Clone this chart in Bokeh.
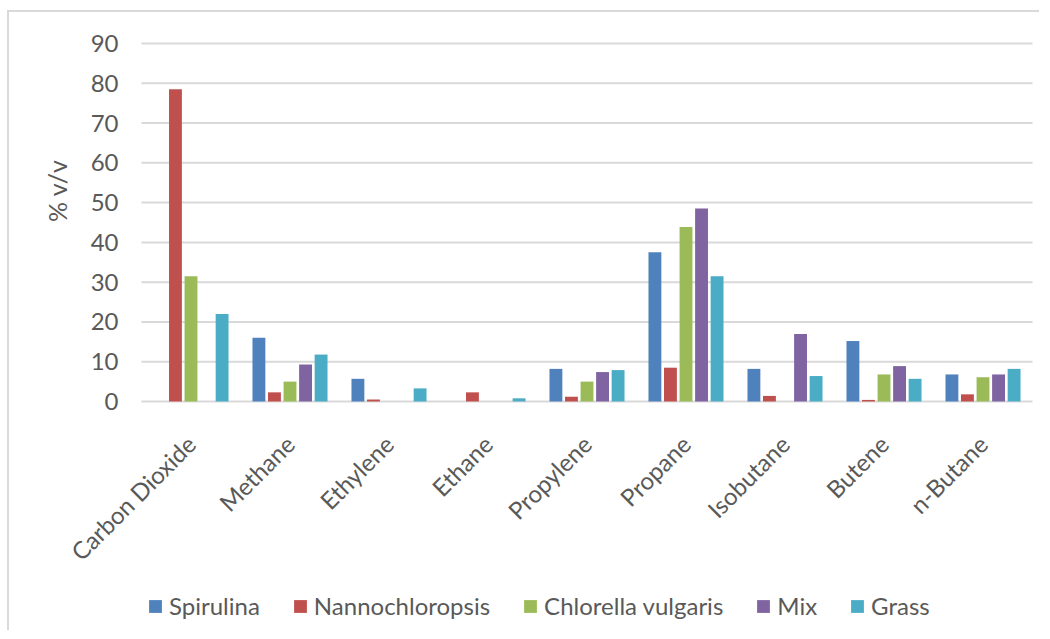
from math import pi

from bokeh.core.properties import value
from bokeh.embed import file_html
from bokeh.models import ColumnDataSource, Legend, LegendItem, Range1d
from bokeh.plotting import figure
from bokeh.resources import INLINE
from bokeh.transform import dodge

# Gas composition (% v/v) per feedstock
gases = ["Carbon Dioxide", "Methane", "Ethylene", "Ethane", "Propylene",
         "Propane", "Isobutane", "Butene", "n-Butane"]
spirulina = [0.0, 16.0, 5.7, 0.0, 8.2, 37.5, 8.2, 15.2, 6.8]
nannochloropsis = [78.5, 2.3, 0.5, 2.3, 1.2, 8.5, 1.4, 0.4, 1.8]
chlorella = [31.5, 5.0, 0.0, 0.0, 5.0, 43.9, 0.0, 6.8, 6.1]
mix = [0.0, 9.3, 0.0, 0.0, 7.4, 48.5, 17.0, 8.9, 6.8]
grass = [22.0, 11.8, 3.3, 0.8, 7.9, 31.5, 6.4, 5.7, 8.2]

series_names = ["Spirulina", "Nannochloropsis", "Chlorella vulgaris", "Mix", "Grass"]
series_values = [spirulina, nannochloropsis, chlorella, mix, grass]
colors = ["#4F81BD", "#C0504D", "#9BBB59", "#8064A2", "#4BACC6"]
y_ticks = list(range(0, 100, 10))
y_title = "% v/v"

FONT = "Lato"
TEXT = "#595959"
GRID = "#d9d9d9"

# One frame covers the whole chart; the value area (0..90, one unit per group)
# sits inside it, with labels and legend drawn around it in the same scales.
CAT_PX = 99.0        # pixels per category
VAL_PX = 358 / 90    # pixels per % v/v
FRAME_W, FRAME_H = 1030, 618
LEFT_PX, ZERO_PX = 132, 389   # value-area origin inside the frame

x_range = Range1d(-LEFT_PX / CAT_PX, (FRAME_W - LEFT_PX) / CAT_PX)
y_range = Range1d(-(FRAME_H - ZERO_PX) / VAL_PX, ZERO_PX / VAL_PX)

n = len(gases)
xc = [k + 0.5 for k in range(n)]
source = ColumnDataSource(dict(gas=gases, xc=xc,
                               **{f"s{i}": v for i, v in enumerate(series_values)}))

p = figure(
    frame_width=FRAME_W, frame_height=FRAME_H,
    x_range=x_range, y_range=y_range,
    output_backend="svg", toolbar_location=None,
    min_border=0,
    margin=(10, 0, 0, 7),
    styles={"border-left": "2px solid #d9d9d9", "border-top": "2px solid #d9d9d9"},
)
p.outline_line_color = None
p.background_fill_color = "white"
p.border_fill_color = "white"
p.xaxis.visible = False
p.yaxis.visible = False
p.xgrid.visible = False
p.ygrid.visible = False

# horizontal gridlines across the value area
p.segment(x0=0, x1=n, y0=y_ticks, y1=y_ticks, line_color=GRID, line_width=2)

# value tick labels
p.text(x=-23 / CAT_PX, y=y_ticks, text=[str(t) for t in y_ticks],
       text_align="right", text_baseline="middle",
       text_font=value(FONT), text_font_size="24px", text_color=TEXT)

# value-axis title
p.text(x=[-85 / CAT_PX], y=[53.0], text=[y_title], angle=pi / 2,
       text_align="center", text_baseline="middle",
       text_font=value(FONT), text_font_size="25px", text_color=TEXT)

pitch = 0.157
items = []
for i, (name, col) in enumerate(zip(series_names, colors)):
    r = p.vbar(x=dodge("xc", (i - 2) * pitch), top=f"s{i}", bottom=0,
               width=0.13, source=source, fill_color=col, line_color=None)
    items.append(LegendItem(label=name, renderers=[r]))

# slanted category labels under each group
p.text(x="xc", y=-9.6, text="gas", source=source, angle=pi / 4,
       text_align="right", text_baseline="middle",
       text_font=value(FONT), text_font_size="24px", text_color=TEXT)

legend = Legend(items=items, orientation="horizontal", location=(138, 10),
                glyph_width=16, glyph_height=16, label_standoff=6, spacing=32,
                padding=0, margin=0, border_line_color=None, background_fill_alpha=0,
                label_text_font=FONT, label_text_font_size="24px", label_text_color=TEXT)
p.add_layout(legend, "center")

open("out.html", "w").write(file_html(p, INLINE))
